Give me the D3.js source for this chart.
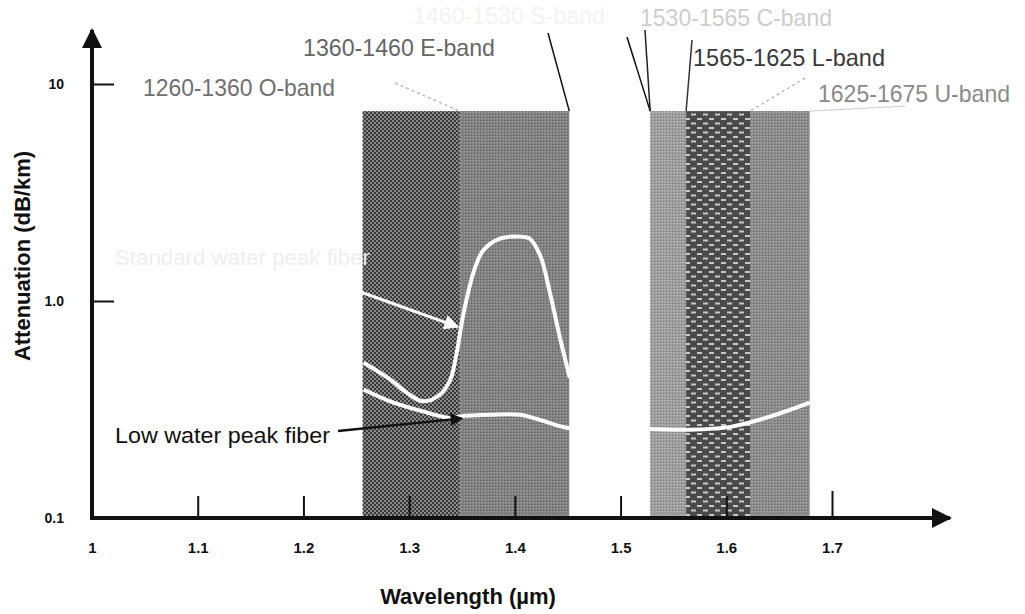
<!DOCTYPE html>
<html>
<head>
<meta charset="utf-8">
<script src="https://cdn.jsdelivr.net/npm/d3@7"></script>
<style>
  body { margin: 0; background: #fff; }
  text { font-family: "Liberation Sans", Arial, sans-serif; }
</style>
</head>
<body>
<div id="chart"></div>
<script>
// wavelength bands (um), edges as they sit in the picture
const bandNames = ['O', 'E', 'C', 'L', 'U'];
const bandStart = [1.256, 1.348, 1.528, 1.562, 1.6225];
const bandEnd   = [1.348, 1.4515, 1.562, 1.6225, 1.679];
const bandTop = 7.5;

// standard (water peak) fiber
const standardWl  = [1.257, 1.282, 1.298, 1.313, 1.329, 1.339, 1.345, 1.351, 1.361, 1.370, 1.386, 1.405, 1.414, 1.424, 1.433, 1.443, 1.452];
const standardAtt = [0.519, 0.435, 0.377, 0.345, 0.370, 0.435, 0.578, 0.855, 1.36, 1.71, 1.94, 1.98, 1.94, 1.62, 1.10, 0.666, 0.442];

// low water peak fiber
const lowWl  = [1.257, 1.282, 1.313, 1.339, 1.348, 1.377, 1.405, 1.424, 1.452, 1.528, 1.565, 1.604, 1.641, 1.679];
const lowAtt = [0.391, 0.345, 0.310, 0.289, 0.294, 0.299, 0.299, 0.283, 0.259, 0.257, 0.255, 0.263, 0.293, 0.340];

const xTicks = [1, 1.1, 1.2, 1.3, 1.4, 1.5, 1.6, 1.7];
const yTicks = [0.1, 1, 10];
const yTickLabels = ['0.1', '1.0', '10'];

const width = 1025, height = 614;

const x = d3.scaleLinear().domain([1, 1.7]).range([92, 832]);
const y = d3.scaleLog().domain([0.1, 10]).range([518, 84]);

const svg = d3.select('#chart').append('svg')
    .attr('width', width)
    .attr('height', height);

const defs = svg.append('defs');

// textures for the band fills
function pattern(id, w, h, base, dots) {
    const p = defs.append('pattern')
        .attr('id', id)
        .attr('patternUnits', 'userSpaceOnUse')
        .attr('width', w)
        .attr('height', h);
    p.append('rect').attr('width', w).attr('height', h).attr('fill', base);
    dots.forEach(d => p.append('rect')
        .attr('x', d[0]).attr('y', d[1]).attr('width', d[2]).attr('height', d[3])
        .attr('fill', d[4]));
}
pattern('texO', 4, 4, '#383838', [[0, 0, 2, 2, '#8a8a8a'], [2, 2, 2, 2, '#8a8a8a']]);
pattern('texE', 3, 3, '#848484', [[0, 0, 1, 1, '#5a5a5a'], [2, 1, 1, 1, '#9e9e9e']]);
pattern('texC', 3, 3, '#a0a0a0', [[0, 0, 1, 1, '#777'], [2, 1, 1, 1, '#b8b8b8']]);
pattern('texL', 12, 9, '#4a4a4a', [[1, 1, 5, 2, '#c8c8c8'], [7, 5.5, 5, 2, '#c8c8c8']]);
pattern('texU', 3, 3, '#8e8e8e', [[0, 0, 1, 1, '#666'], [2, 1, 1, 1, '#a8a8a8']]);

function marker(id, color) {
    defs.append('marker')
        .attr('id', id)
        .attr('viewBox', '0 0 10 10')
        .attr('refX', 9).attr('refY', 5)
        .attr('markerWidth', 5).attr('markerHeight', 5)
        .attr('markerUnits', 'strokeWidth')
        .attr('orient', 'auto')
        .append('path')
        .attr('d', 'M0,0L10,5L0,10z')
        .attr('fill', color);
}
marker('arrowBlack', '#111');
marker('arrowWhite', '#fff');

// bands
svg.selectAll('.band')
    .data(bandNames)
    .enter()
    .append('rect')
    .attr('class', 'band')
    .attr('x', (d, i) => x(bandStart[i]))
    .attr('y', y(bandTop))
    .attr('width', (d, i) => x(bandEnd[i]) - x(bandStart[i]))
    .attr('height', y(0.1) - y(bandTop))
    .attr('fill', d => `url(#tex${d})`);

// attenuation curves
const line = d3.line()
    .x(d => x(d[0]))
    .y(d => y(d[1]))
    .curve(d3.curveCatmullRom);

svg.append('path')
    .datum(standardWl.map((w, i) => [w, standardAtt[i]]))
    .attr('d', line)
    .attr('fill', 'none')
    .attr('stroke', '#fff')
    .attr('stroke-width', 4);

svg.append('path')
    .datum(lowWl.map((w, i) => [w, lowAtt[i]]))
    .attr('d', line)
    .attr('fill', 'none')
    .attr('stroke', '#fff')
    .attr('stroke-width', 4);

// axes
const xAxis = d3.axisBottom(x)
    .tickValues(xTicks)
    .tickSizeInner(-22)
    .tickSizeOuter(0)
    .tickPadding(24)
    .tickFormat(d => d === 1 ? '1' : d3.format('.1f')(d));

const gx = svg.append('g')
    .attr('transform', `translate(0,${y(0.1)})`)
    .call(xAxis);
gx.select('.domain').remove();
gx.selectAll('.tick line').attr('stroke', '#111').attr('stroke-width', 2)
    .attr('y2', d => d === 1.7 ? -27 : -22);
gx.selectAll('.tick text')
    .attr('fill', '#111')
    .style('font-size', '15px')
    .style('font-weight', 'bold');

const yAxis = d3.axisLeft(y)
    .tickValues(yTicks)
    .tickSizeInner(-22)
    .tickSizeOuter(0)
    .tickPadding(28)
    .tickFormat((d, i) => yTickLabels[i]);

const gy = svg.append('g')
    .attr('transform', `translate(${x(1)},0)`)
    .call(yAxis);
gy.select('.domain').remove();
gy.selectAll('.tick line').attr('stroke', '#111').attr('stroke-width', 2);
gy.selectAll('.tick text')
    .attr('fill', '#111')
    .style('font-size', '14px')
    .style('font-weight', 'bold');

// thick axis lines with arrow heads
svg.append('line')
    .attr('x1', x(1)).attr('y1', y(0.1) + 2)
    .attr('x2', x(1)).attr('y2', 30)
    .attr('stroke', '#111').attr('stroke-width', 4)
    .attr('marker-end', 'url(#arrowBlack)');
svg.append('line')
    .attr('x1', x(1) - 2).attr('y1', y(0.1))
    .attr('x2', 950).attr('y2', y(0.1))
    .attr('stroke', '#111').attr('stroke-width', 4)
    .attr('marker-end', 'url(#arrowBlack)');

// axis titles
svg.append('text')
    .attr('x', 468)
    .attr('y', 604)
    .attr('text-anchor', 'middle')
    .attr('fill', '#111')
    .style('font-size', '22px')
    .style('font-weight', 'bold')
    .text('Wavelength (\u00b5m)');

svg.append('text')
    .attr('transform', 'translate(30,256) rotate(-90)')
    .attr('text-anchor', 'middle')
    .attr('fill', '#111')
    .style('font-size', '22px')
    .style('font-weight', 'bold')
    .text('Attenuation (dB/km)');

// band labels
const bandLabelText = ['1260-1360 O-band', '1360-1460 E-band', '1460-1530 S-band',
    '1530-1565 C-band', '1565-1625 L-band', '1625-1675 U-band'];
const bandLabelPos = [[143, 96], [303, 56], [413, 24], [640, 26], [693, 66], [818, 102]];
const bandLabelColor = ['#707070', '#666', '#f3f3f3', '#cdcdcd', '#3a3a3a', '#8a8a8a'];

svg.selectAll('.band-label')
    .data(bandLabelText)
    .enter()
    .append('text')
    .attr('class', 'band-label')
    .attr('x', (d, i) => bandLabelPos[i][0])
    .attr('y', (d, i) => bandLabelPos[i][1])
    .attr('textLength', 192)
    .attr('lengthAdjust', 'spacingAndGlyphs')
    .attr('fill', (d, i) => bandLabelColor[i])
    .style('font-size', '24px')
    .text(d => d);

// leader lines from the labels to the band edges
const leaders = [
    { from: [548, 33], to: bandEnd[1], stroke: '#111', dash: null },
    { from: [627, 37], to: bandStart[2], stroke: '#111', dash: null },
    { from: [645, 30], to: bandStart[2], stroke: '#222', dash: null },
    { from: [692, 40], to: bandStart[3], stroke: '#333', dash: null },
    { from: [395, 83], to: bandEnd[0], stroke: '#bbb', dash: '3,3' },
    { from: [805, 78], to: bandStart[4], stroke: '#bbb', dash: '3,3' }
];
svg.selectAll('.leader')
    .data(leaders)
    .enter()
    .append('line')
    .attr('class', 'leader')
    .attr('x1', d => d.from[0]).attr('y1', d => d.from[1])
    .attr('x2', d => x(d.to)).attr('y2', y(bandTop))
    .attr('stroke', d => d.stroke)
    .attr('stroke-width', 1.5)
    .attr('stroke-dasharray', d => d.dash);

svg.append('line')
    .attr('x1', x(bandEnd[4])).attr('y1', y(bandTop))
    .attr('x2', 905).attr('y2', y(bandTop) - 5)
    .attr('stroke', '#ccc').attr('stroke-width', 1);

// curve labels and pointers
svg.append('text')
    .attr('x', 115).attr('y', 265)
    .attr('textLength', 255)
    .attr('lengthAdjust', 'spacingAndGlyphs')
    .attr('fill', '#eeeeee')
    .style('font-size', '22px')
    .text('Standard water peak fiber');

svg.append('line')
    .attr('x1', 330).attr('y1', 281)
    .attr('x2', x(1.346)).attr('y2', y(0.76))
    .attr('stroke', '#fff').attr('stroke-width', 3)
    .attr('marker-end', 'url(#arrowWhite)');

svg.append('text')
    .attr('x', 115).attr('y', 443)
    .attr('textLength', 215)
    .attr('lengthAdjust', 'spacingAndGlyphs')
    .attr('fill', '#111')
    .style('font-size', '22px')
    .text('Low water peak fiber');

svg.append('line')
    .attr('x1', 338).attr('y1', 431)
    .attr('x2', x(lowWl[4]) + 2).attr('y2', y(lowAtt[4]) + 2)
    .attr('stroke', '#111').attr('stroke-width', 2.5)
    .attr('marker-end', 'url(#arrowBlack)');
</script>
</body>
</html>
